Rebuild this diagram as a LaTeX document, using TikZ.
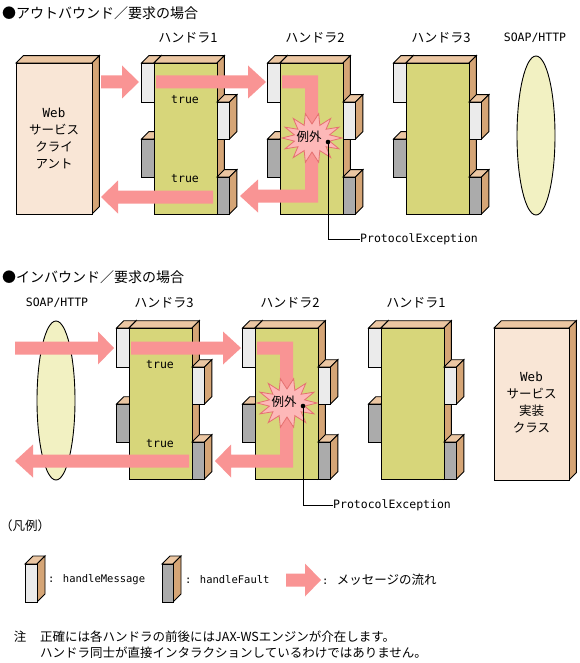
\documentclass[tikz,border=0pt]{standalone}
\usepackage{fontspec}
\setmainfont{Noto Sans CJK JP}
\newfontfamily\mono{DejaVu Sans Mono}
\definecolor{peachc}{HTML}{F9E6D6}
\definecolor{topc}{HTML}{EBC6A2}
\definecolor{sidec}{HTML}{D5A576}
\definecolor{greenc}{HTML}{D7D67A}
\definecolor{whitec}{HTML}{EBEBEB}
\definecolor{grayc}{HTML}{ABABAB}
\definecolor{flowc}{HTML}{F99494}
\definecolor{burstc}{HTML}{FDB8B8}
\definecolor{burstd}{HTML}{E57070}
\definecolor{ellc}{HTML}{F2F1C2}
\def\dep{7.3}
\newcommand\tbox[5]{%
  \filldraw[ol, fill=topc] (#1,#2) -- ++(\dep,-\dep) -- (#3+\dep,#2-\dep) -- (#3,#2) -- cycle;
  \filldraw[ol, fill=sidec] (#3,#2) -- (#3+\dep,#2-\dep) -- (#3+\dep,#4-\dep) -- (#3,#4) -- cycle;
  \filldraw[ol, fill=#5] (#1,#2) rectangle (#3,#4);
}
\newcommand\handler[2]{%
  \tbox{#1-12.5}{63+#2}{#1}{102+#2}{whitec}
  \tbox{#1-12.5}{139+#2}{#1}{177+#2}{grayc}
  \tbox{#1}{63+#2}{#1+63}{214+#2}{greenc}
  \tbox{#1+63}{102+#2}{#1+75.5}{139+#2}{whitec}
  \tbox{#1+63}{177+#2}{#1+75.5}{214+#2}{grayc}
}
\newcommand\flowarrow[4]{% start, head base, tip, y centre
  \fill[flowc] (#1,#4-6.5) -- (#2,#4-6.5) -- (#2,#4-16.5) -- (#3,#4) -- (#2,#4+16.5) -- (#2,#4+6.5) -- (#1,#4+6.5) -- cycle;
}
\newcommand\burst[2]{%
  \begin{scope}[shift={(#1,#2)}]
    \filldraw[fill=burstc, draw=burstd, line width=0.8pt] (0:30 and 25)
      \foreach \i in {0,...,13} { -- ({\i*360/14+360/28}:18 and 14) -- ({(\i+1)*360/14}:30 and 25) } -- cycle;
  \end{scope}
}
\begin{document}
\begin{tikzpicture}[x=1pt,y=-1pt,
  ol/.style={draw=black, line width=0.9pt, line join=miter},
  jp/.style={font=\fontsize{12.5}{15}\selectfont, inner sep=0pt},
  hd/.style={font=\fontsize{13}{15}\selectfont, inner sep=0pt},
  ttl/.style={font=\fontsize{14}{16}\selectfont, inner sep=0pt},
  mn/.style={font=\mono\fontsize{11.5}{14}\selectfont, inner sep=0pt},
  lg/.style={font=\mono\fontsize{10.5}{13}\selectfont, inner sep=0pt},
  boxtxt/.style={align=center, font=\fontsize{12.5}{17}\selectfont, inner sep=0pt}]
\useasboundingbox (0,0) rectangle (580,663);
\fill[white] (0,0) rectangle (580,663);

% ===== outbound =====
\node[ttl, anchor=west] (t1) at (2,13) {●アウトバウンド／要求の場合};
\node[hd] (h1a) at (188,38) {ハンドラ1};
\node[hd] (h2a) at (315,38) {ハンドラ2};
\node[hd] (h3a) at (441,38) {ハンドラ3};
\node[mn] (soapa) at (535,38) {SOAP/HTTP};

\tbox{16}{63}{92}{214}{peachc}
\node[boxtxt] (client) at (54,138.5) {{\mono Web}\\サービス\\クライ\\アント};
\handler{154}{0}
\handler{280}{0}
\handler{406}{0}
\filldraw[ol, fill=ellc] (536,135.5) ellipse (19 and 79.5);

\flowarrow{101}{122}{139}{82}
\flowarrow{156}{248}{266}{82}
\flowarrow{213}{118}{101}{197}
\fill[flowc] (282,75.5) -- (318,75.5) -- (318,202.5) -- (258,202.5) -- (258,212.5) -- (240,196) -- (258,179.5) -- (258,189.5) -- (305,189.5) -- (305,88.5) -- (282,88.5) -- cycle;
\node[mn] (true1) at (185,100) {true};
\node[mn] (true2) at (185,179) {true};
\burst{312}{138}
\node[jp] (exa) at (309,137) {例外};
\coordinate (dota) at (328,142);
\fill (dota) circle (2.3);
\node[mn, anchor=west] (pea) at (360,239) {ProtocolException};
\draw[line width=0.9pt] (dota) |- (pea.west);

% ===== inbound =====
\node[ttl, anchor=west] (t2) at (2,277) {●インバウンド／要求の場合};
\node[mn] (soapb) at (57,303) {SOAP/HTTP};
\node[hd] (h3b) at (164,303) {ハンドラ3};
\node[hd] (h2b) at (290,303) {ハンドラ2};
\node[hd] (h1b) at (416,303) {ハンドラ1};

\filldraw[ol, fill=ellc] (56,400.5) ellipse (19 and 79.5);
\handler{129}{265}
\handler{255}{265}
\handler{381}{265}
\tbox{494}{328}{569}{480}{peachc}
\node[boxtxt] (service) at (531.5,403) {{\mono Web}\\サービス\\実装\\クラス};

\flowarrow{15}{98}{114}{348}
\flowarrow{131}{223}{241}{348}
\flowarrow{189}{33}{15}{461}
\fill[flowc] (257,341.5) -- (293,341.5) -- (293,467.5) -- (231,467.5) -- (231,477.5) -- (215,461) -- (231,444.5) -- (231,454.5) -- (280,454.5) -- (280,354.5) -- (257,354.5) -- cycle;
\node[mn] (true3) at (160,365) {true};
\node[mn] (true4) at (160,444) {true};
\burst{287}{403}
\node[jp] (exb) at (284,402) {例外};
\coordinate (dotb) at (303,406);
\fill (dotb) circle (2.3);
\node[mn, anchor=west] (peb) at (333,505) {ProtocolException};
\draw[line width=0.9pt] (dotb) |- (peb.west);

% ===== legend =====
\node[jp, anchor=west] (legend) at (0,526) {（凡例）};
{\def\dep{8}
\tbox{25}{564}{37}{602}{whitec}
\tbox{162}{564}{173}{602}{grayc}
}
\node[lg, anchor=west] (lgm) at (48,580) {: handleMessage};
\node[lg, anchor=west] (lgf) at (185,580) {: handleFault};
\flowarrow{286}{305}{321}{580}
\node[jp, anchor=west] (lgflow) at (322,580) {{\mono\fontsize{10.5}{13}\selectfont: }メッセージの流れ};

% ===== note =====
\node[jp] (note) at (20,637) {注};
\node[jp, anchor=west] (n1) at (40,637) {正確には各ハンドラの前後にはJAX-WSエンジンが介在します。};
\node[jp, anchor=west] (n2) at (40,653) {ハンドラ同士が直接インタラクションしているわけではありません。};
\end{tikzpicture}
\end{document}
